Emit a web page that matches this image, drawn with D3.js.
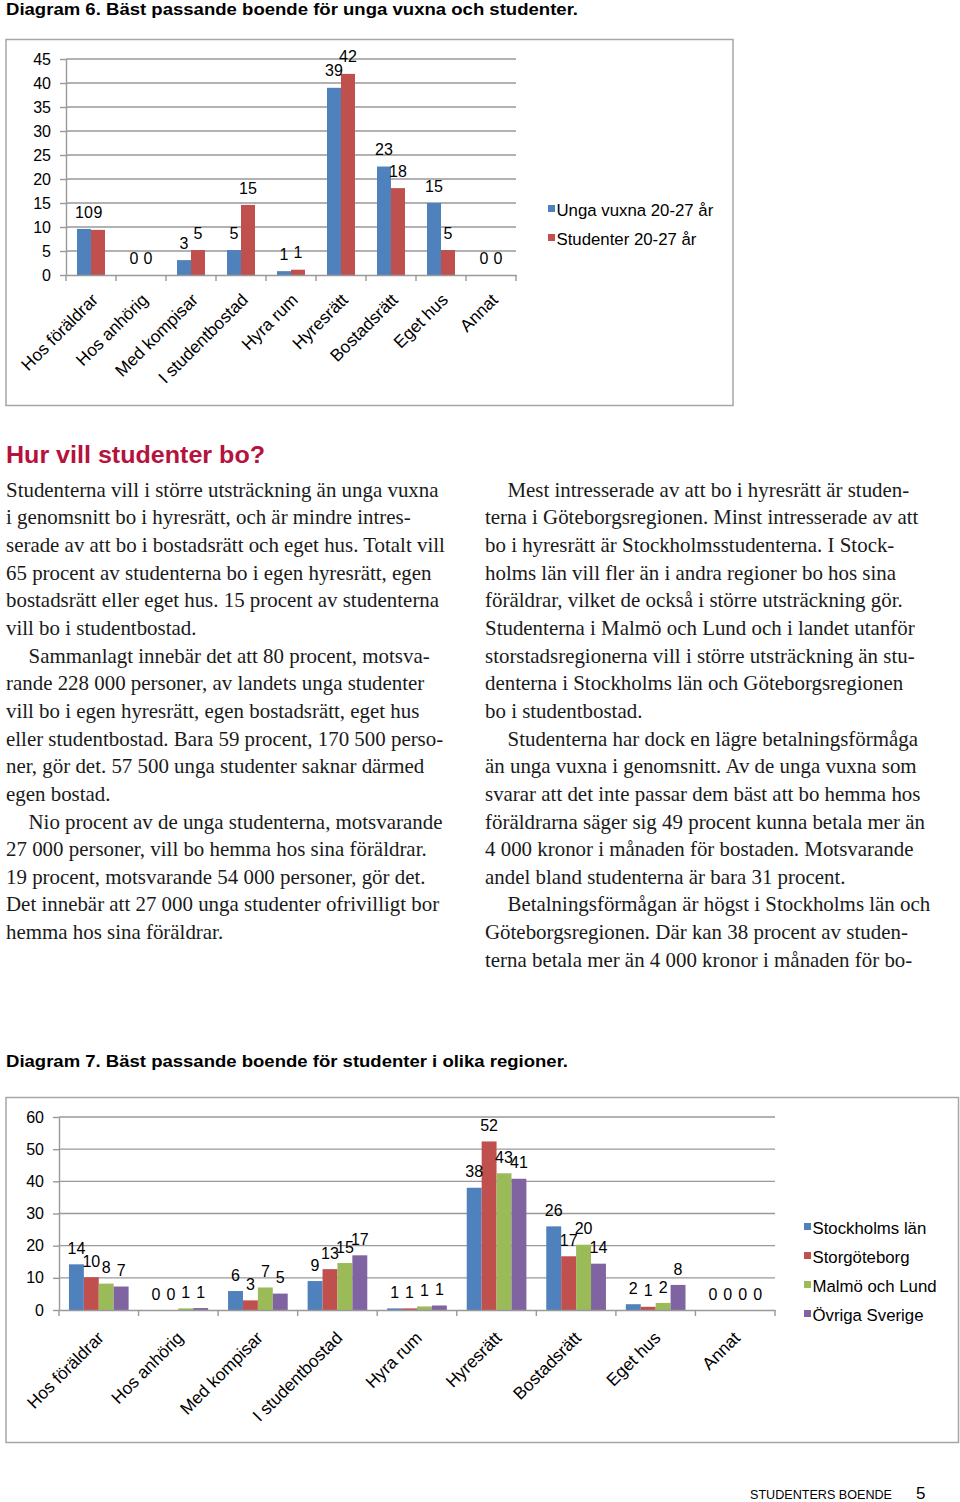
<!DOCTYPE html>
<html><head><meta charset="utf-8">
<script src="https://cdn.jsdelivr.net/npm/d3@7"></script>
<style>body{margin:0;background:#fff} svg{display:block}</style>
</head><body>
<svg id="page" width="960" height="1502"></svg>
<script>
// ---------- DATA ----------
const categories = ["Hos föräldrar","Hos anhörig","Med kompisar","I studentbostad","Hyra rum","Hyresrätt","Bostadsrätt","Eget hus","Annat"];

const topSeries = ["Unga vuxna 20-27 år","Studenter 20-27 år"];
const topUngaVuxna = [9.6, 0, 3.1, 5.2, 0.8, 39, 22.6, 15, 0];
const topStudenter = [9.4, 0, 5.2, 14.6, 1.1, 41.9, 18.1, 5.2, 0];
const topTicks = [0,5,10,15,20,25,30,35,40,45];

const bottomSeries = ["Stockholms län","Storgöteborg","Malmö och Lund","Övriga Sverige"];
const bottomStockholm = [14.2, 0, 5.9, 9, 0.5, 38, 26, 1.8, 0];
const bottomGoteborg  = [10.2, 0, 3, 12.7, 0.5, 52.4, 16.7, 1, 0];
const bottomMalmo     = [8.2, 0.5, 7, 14.6, 1.1, 42.5, 20.3, 2.2, 0];
const bottomOvriga    = [7.3, 0.6, 5.1, 17, 1.4, 40.8, 14.4, 7.8, 0];
const bottomTicks = [0,10,20,30,40,50,60];

const title6 = "Diagram 6. Bäst passande boende för unga vuxna och studenter.";
const title7 = "Diagram 7. Bäst passande boende för studenter i olika regioner.";
const heading = "Hur vill studenter bo?";
const leftLines = [
 "Studenterna vill i större utsträckning än unga vuxna",
 "i genomsnitt bo i hyresrätt, och är mindre intres-",
 "serade av att bo i bostadsrätt och eget hus. Totalt vill",
 "65 procent av studenterna bo i egen hyresrätt, egen",
 "bostadsrätt eller eget hus. 15 procent av studenterna",
 "vill bo i studentbostad.",
 "Sammanlagt innebär det att 80 procent, motsva-",
 "rande 228 000 personer, av landets unga studenter",
 "vill bo i egen hyresrätt, egen bostadsrätt, eget hus",
 "eller studentbostad. Bara 59 procent, 170 500 perso-",
 "ner, gör det. 57 500 unga studenter saknar därmed",
 "egen bostad.",
 "Nio procent av de unga studenterna, motsvarande",
 "27 000 personer, vill bo hemma hos sina föräldrar.",
 "19 procent, motsvarande 54 000 personer, gör det.",
 "Det innebär att 27 000 unga studenter ofrivilligt bor",
 "hemma hos sina föräldrar."
];
const leftIndents = [6, 12];
const rightLines = [
 "Mest intresserade av att bo i hyresrätt är studen-",
 "terna i Göteborgsregionen. Minst intresserade av att",
 "bo i hyresrätt är Stockholmsstudenterna. I Stock-",
 "holms län vill fler än i andra regioner bo hos sina",
 "föräldrar, vilket de också i större utsträckning gör.",
 "Studenterna i Malmö och Lund och i landet utanför",
 "storstadsregionerna vill i större utsträckning än stu-",
 "denterna i Stockholms län och Göteborgsregionen",
 "bo i studentbostad.",
 "Studenterna har dock en lägre betalningsförmåga",
 "än unga vuxna i genomsnitt. Av de unga vuxna som",
 "svarar att det inte passar dem bäst att bo hemma hos",
 "föräldrarna säger sig 49 procent kunna betala mer än",
 "4 000 kronor i månaden för bostaden. Motsvarande",
 "andel bland studenterna är bara 31 procent.",
 "Betalningsförmågan är högst i Stockholms län och",
 "Göteborgsregionen. Där kan 38 procent av studen-",
 "terna betala mer än 4 000 kronor i månaden för bo-"
];
const rightIndents = [0, 9, 15];
const footerText = "STUDENTERS BOENDE";
const footerPage = "5";

// ---------- DRAWING ----------
const SANS = "'Liberation Sans', Arial, sans-serif";
const SERIF = "'Liberation Serif', 'Times New Roman', serif";
const colors = ["#4F81BD", "#C0504D", "#9BBB59", "#8064A2"];
const gridColor = "#999999";
const svg = d3.select("#page");
svg.append("rect").attr("width",960).attr("height",1502).attr("fill","#fff");

function fit(sel, target) {
  const w = sel.node().getComputedTextLength();
  if (target && Math.abs(w - target) > 1) sel.attr("textLength", target).attr("lengthAdjust", "spacingAndGlyphs");
  return sel;
}

function drawChart(cfg) {
  const g = svg.append("g");
  g.append("rect").attr("x", cfg.frame[0]).attr("y", cfg.frame[1])
    .attr("width", cfg.frame[2]-cfg.frame[0]).attr("height", cfg.frame[3]-cfg.frame[1])
    .attr("fill", "#fff").attr("stroke", "#a6a6a6").attr("stroke-width", 1.5);

  const x0 = d3.scaleBand().domain(categories).range(cfg.xRange).paddingInner(0).paddingOuter(0);
  const step = x0.step();
  const gap = step * cfg.gapFrac;
  const x1 = d3.scaleBand().domain(cfg.series).range([gap/2, step - gap/2]);
  const y = d3.scaleLinear().domain([0, cfg.maxV]).range([cfg.yRange[0], cfg.yRange[1]]);

  g.append("g").selectAll("line").data(cfg.ticks.filter(t => t > 0)).join("line")
    .attr("x1", cfg.xRange[0]).attr("x2", cfg.xRange[1])
    .attr("y1", d => y(d)).attr("y2", d => y(d))
    .attr("stroke", gridColor).attr("stroke-width", 1.4);

  const yAxis = d3.axisLeft(y).tickValues(cfg.ticks).tickSize(6).tickPadding(9).tickSizeOuter(0);
  const ya = g.append("g").attr("transform", `translate(${cfg.xRange[0]},0)`).call(yAxis);
  ya.select(".domain").attr("stroke", gridColor).attr("stroke-width", 1.4);
  ya.selectAll(".tick line").attr("stroke", gridColor).attr("stroke-width", 1.4);
  ya.selectAll(".tick text").attr("font-family", SANS).attr("font-size", 16).attr("fill", "#000");

  const rows = categories.map((c, i) => ({cat: c, vals: cfg.series.map((s, j) => ({s, j, v: cfg.values[j][i]}))}));
  const grp = g.append("g").selectAll("g").data(rows).join("g")
    .attr("transform", d => `translate(${x0(d.cat)},0)`);
  grp.selectAll("rect").data(d => d.vals).join("rect")
    .attr("x", d => x1(d.s)).attr("width", x1.bandwidth())
    .attr("y", d => y(d.v)).attr("height", d => y(0) - y(d.v))
    .attr("fill", d => colors[d.j]);
  grp.selectAll("text").data(d => d.vals).join("text")
    .attr("x", d => x1(d.s) + x1.bandwidth()/2)
    .attr("y", d => y(d.v) - cfg.labelGap)
    .attr("dy", "0.35em")
    .attr("text-anchor", "middle")
    .attr("font-family", SANS).attr("font-size", 16).attr("fill", "#000")
    .text(d => Math.round(d.v));

  const xAxis = d3.axisBottom(x0).tickSize(0).tickFormat("");
  const xa = g.append("g").attr("transform", `translate(0,${y(0)})`).call(xAxis);
  xa.select(".domain").attr("stroke", gridColor).attr("stroke-width", 1.4);
  const bounds = categories.map(c => x0(c)).concat([cfg.xRange[1]]);
  g.append("g").selectAll("line").data(bounds).join("line")
    .attr("x1", d => d).attr("x2", d => d).attr("y1", y(0)).attr("y2", y(0) + 6)
    .attr("stroke", gridColor).attr("stroke-width", 1.4);
  g.append("g").selectAll("text").data(categories).join("text")
    .attr("transform", d => `translate(${x0(d) + step/2 + cfg.xlab[0]},${y(0) + cfg.xlab[1]}) rotate(-45)`)
    .attr("text-anchor", "end")
    .attr("font-family", SANS).attr("font-size", 17.3).attr("fill", "#000")
    .text(d => d);

  const lg = g.append("g").selectAll("g").data(cfg.series).join("g")
    .attr("transform", (d, i) => `translate(${cfg.legend.x},${cfg.legend.y + i*cfg.legend.dy})`);
  lg.append("rect").attr("x", 0).attr("y", -11).attr("width", 7).attr("height", 7)
    .attr("fill", (d, i) => colors[i]);
  lg.append("text").attr("x", 8.5).attr("y", 0)
    .attr("font-family", SANS).attr("font-size", 16.8).attr("fill", "#000").text(d => d);
}

fit(svg.append("text").attr("x", 6).attr("y", 14.5).attr("font-family", SANS).attr("font-weight", "bold")
  .attr("font-size", 16.5).attr("fill", "#000").text(title6), 572);

drawChart({
  frame: [6, 39.5, 733, 405.5],
  xRange: [66, 516], yRange: [275, 59], maxV: 45, ticks: topTicks,
  series: topSeries, values: [topUngaVuxna, topStudenter], gapFrac: 0.44,
  labelGap: 17, xlab: [8, 26],
  legend: {x: 548, y: 216, dy: 29}
});

fit(svg.append("text").attr("x", 6).attr("y", 463).attr("font-family", SANS).attr("font-weight", "bold")
  .attr("font-size", 23).attr("fill", "#B5123E").text(heading), 259);

const probe = svg.append("text").attr("font-family", SERIF).attr("font-size", 20).text(leftLines[0]);
const bodySize = 20 * 433 / probe.node().getComputedTextLength();
probe.remove();
const lineH = 27.65, base = 496.7;
function column(lines, indents, x) {
  svg.append("g").selectAll("text").data(lines).join("text")
    .attr("x", (d, i) => x + (indents.includes(i) ? 22.5 : 0))
    .attr("y", (d, i) => base + i*lineH)
    .attr("font-family", SERIF).attr("font-size", bodySize).attr("fill", "#1a1a1a")
    .text(d => d);
}
column(leftLines, leftIndents, 6);
column(rightLines, rightIndents, 485);

fit(svg.append("text").attr("x", 6).attr("y", 1066.5).attr("font-family", SANS).attr("font-weight", "bold")
  .attr("font-size", 16.5).attr("fill", "#000").text(title7), 562);

drawChart({
  frame: [6, 1097.5, 958.5, 1442.5],
  xRange: [59, 775], yRange: [1310, 1117], maxV: 60, ticks: bottomTicks,
  series: bottomSeries, values: [bottomStockholm, bottomGoteborg, bottomMalmo, bottomOvriga], gapFrac: 0.25,
  labelGap: 16, xlab: [6, 29],
  legend: {x: 804, y: 1234, dy: 29}
});

fit(svg.append("text").attr("x", 750).attr("y", 1499).attr("font-family", SANS).attr("font-size", 13.5)
  .attr("fill", "#000").text(footerText), 142);
svg.append("text").attr("x", 916).attr("y", 1499).attr("font-family", SANS).attr("font-size", 17)
  .attr("fill", "#000").text(footerPage);
</script>
</body></html>
